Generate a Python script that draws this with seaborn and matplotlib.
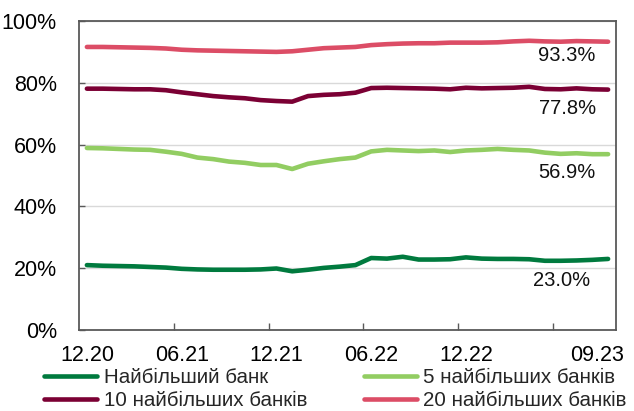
import matplotlib
matplotlib.use("Agg")
import matplotlib.pyplot as plt
import matplotlib.transforms as mtransforms
import seaborn as sns
import pandas as pd
from matplotlib.ticker import FixedLocator, FuncFormatter

# Monthly observations, 12.2020 .. 09.2023
months = pd.period_range("2020-12", "2023-09", freq="M")
month_labels = [p.strftime("%m.%y") for p in months]

top1 = [21.0, 20.8, 20.7, 20.6, 20.4, 20.2, 19.8, 19.6, 19.5, 19.5, 19.5, 19.6,
        19.9, 19.0, 19.5, 20.1, 20.5, 21.0, 23.3, 23.1, 23.7, 22.8, 22.8, 22.9,
        23.5, 23.1, 23.0, 23.0, 22.9, 22.4, 22.4, 22.5, 22.7, 23.0]
top5 = [58.9, 58.8, 58.6, 58.4, 58.3, 57.7, 57.0, 55.8, 55.3, 54.5, 54.1, 53.4,
        53.4, 52.1, 53.8, 54.6, 55.3, 55.8, 57.8, 58.3, 58.1, 57.9, 58.1, 57.6,
        58.1, 58.3, 58.6, 58.3, 58.1, 57.4, 57.0, 57.2, 56.9, 56.9]
top10 = [78.1, 78.1, 78.0, 77.9, 77.9, 77.6, 76.9, 76.3, 75.7, 75.3, 75.0, 74.4,
         74.1, 73.9, 75.7, 76.1, 76.3, 76.8, 78.3, 78.4, 78.3, 78.2, 78.1, 77.9,
         78.4, 78.2, 78.3, 78.4, 78.7, 78.0, 77.9, 78.2, 77.9, 77.8]
top20 = [91.6, 91.6, 91.5, 91.4, 91.3, 91.1, 90.7, 90.5, 90.4, 90.3, 90.2, 90.1,
         90.0, 90.2, 90.7, 91.2, 91.4, 91.6, 92.2, 92.5, 92.7, 92.8, 92.8, 93.0,
         93.0, 93.0, 93.1, 93.4, 93.6, 93.4, 93.3, 93.5, 93.4, 93.3]

series_names = ["Найбільший банк", "5 найбільших банків",
                "10 найбільших банків", "20 найбільших банків"]
series_values = [top1, top5, top10, top20]
series_colors = ["#007A3E", "#92CD62", "#7B0034", "#DC4D66"]

# tick labels shown on the category axis
shown_ticks = ["12.20", "06.21", "12.21", "06.22", "12.22", "09.23"]

rows = []
for name, vals in zip(series_names, series_values):
    for i, v in enumerate(vals):
        rows.append({"idx": i, "month": month_labels[i], "share": v, "group": name})
df = pd.DataFrame(rows)

sns.set_theme(style="white")
plt.rcParams["font.family"] = ["Liberation Sans", "DejaVu Sans"]

fig = plt.figure(figsize=(6.34, 4.11), dpi=100)
ax = fig.add_axes([79 / 634, 1 - 330 / 411, (616 - 79) / 634, (330 - 21) / 411])

sns.lineplot(data=df, x="idx", y="share", hue="group", hue_order=series_names,
             palette=dict(zip(series_names, series_colors)), linewidth=3.3,
             sort=False, ax=ax, legend=False, solid_capstyle="round",
             solid_joinstyle="round", zorder=3)

n = len(months)
ax.set_xlim(-0.5, n - 0.5)
ax.set_ylim(0, 100)
ax.set_xlabel("")
ax.set_ylabel("")

ax.set_yticks([0, 20, 40, 60, 80, 100])
ax.yaxis.set_major_formatter(FuncFormatter(lambda v, p: f"{v:.0f}%"))
ax.grid(axis="y", color="#D9D9D9", linewidth=1.0, zorder=0)
ax.set_axisbelow(True)

label_pos = [month_labels.index(t) for t in shown_ticks]
ax.set_xticks(label_pos)
ax.set_xticklabels(shown_ticks)
ax.xaxis.set_minor_locator(FixedLocator([5.5, 11.5, 17.5, 23.5, 29.5]))
ax.tick_params(axis="x", which="major", length=0, pad=11, labelsize=15.5,
               labelcolor="black")
ax.tick_params(axis="x", which="minor", direction="in", length=5,
               width=1.0, color="#595959", bottom=True)
ax.tick_params(axis="y", which="major", direction="in", length=4, width=1.0,
               color="#595959", pad=16, labelsize=15.5, labelcolor="black", left=True)

# keep the last month label inside the frame
last_lbl = ax.get_xticklabels()[-1]
last_lbl.set_transform(last_lbl.get_transform() +
                       mtransforms.ScaledTranslation(-0.11, 0, fig.dpi_scale_trans))

for s in ax.spines.values():
    s.set_visible(True)
    s.set_color("#595959")
    s.set_linewidth(1.3)

# end-of-period value labels
label_offsets = [(-47, -22), (-41, -18), (-41, -19), (-41, -14)]
for vals, (dx, dy) in zip(series_values, label_offsets):
    ax.annotate(f"{vals[-1]:.1f}%", xy=(n - 1, vals[-1]), xytext=(dx, dy),
                textcoords="offset pixels", ha="center", va="center",
                fontsize=14.5, color="#111111")

handles = [plt.Line2D([], [], color=c, linewidth=3.3, solid_capstyle="round")
           for c in series_colors]
order = [0, 2, 1, 3]
fig.legend([handles[i] for i in order], [series_names[i] for i in order],
           ncol=2, loc="center left", bbox_to_anchor=(44 / 634, 1 - 389 / 411),
           frameon=False, fontsize=14.8, handlelength=2.6, handletextpad=0.3,
           columnspacing=2.75, labelspacing=0.2, borderpad=0, borderaxespad=0)

fig.savefig("out.png", dpi=100)
